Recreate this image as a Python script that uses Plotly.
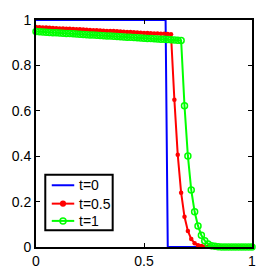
import plotly.graph_objects as go

# grid
x_grid = [i / 64 for i in range(65)]

blue_x = [0, 0.6, 0.61, 1]
blue_y = [1, 1, 0, 0]

red_y = [0.969, 0.968, 0.967, 0.967, 0.966, 0.965, 0.964, 0.963, 0.963, 0.962,
         0.961, 0.960, 0.959, 0.959, 0.958, 0.957, 0.956, 0.955, 0.955, 0.954,
         0.953, 0.952, 0.951, 0.951, 0.950, 0.949, 0.948, 0.947, 0.947, 0.946,
         0.945, 0.944, 0.943, 0.943, 0.942, 0.941, 0.940, 0.939, 0.939, 0.938,
         0.937,
         0.649, 0.406, 0.239, 0.133, 0.071, 0.035, 0.017, 0.008, 0.004, 0.002, 0.001,
         0, 0, 0, 0, 0, 0, 0, 0, 0, 0, 0, 0, 0]

green_y = [0.949, 0.948, 0.947, 0.946, 0.945, 0.944, 0.944, 0.943, 0.942, 0.941,
           0.940, 0.939, 0.938, 0.937, 0.936, 0.935, 0.934, 0.934, 0.933, 0.932,
           0.931, 0.930, 0.929, 0.928, 0.927, 0.926, 0.925, 0.924, 0.924, 0.923,
           0.922, 0.921, 0.920, 0.919, 0.918, 0.917, 0.916, 0.915, 0.915, 0.914,
           0.913, 0.912, 0.911, 0.910,
           0.622, 0.401, 0.251, 0.155, 0.093, 0.052, 0.028, 0.013, 0.006, 0.003, 0.001,
           0, 0, 0, 0, 0, 0, 0, 0, 0, 0]

x_ticks = [0, 0.5, 1]
x_labels = ["0", "0.5", "1"]
y_ticks = [0, 0.2, 0.4, 0.6, 0.8, 1]
y_labels = ["0", "0.2", "0.4", "0.6", "0.8", "1"]

legend_labels = ["t=0", "t=0.5", "t=1"]
legend_colors = ["#0000ff", "#ff0000", "#00ff00"]
legend_markers = [None, "dot", "ring"]

FONT = "Liberation Sans"

fig = go.Figure()
fig.add_trace(go.Scatter(x=blue_x, y=blue_y, mode="lines", name=legend_labels[0],
                         line=dict(color=legend_colors[0], width=2), cliponaxis=False,
                         showlegend=False))
fig.add_trace(go.Scatter(x=x_grid, y=red_y, mode="lines+markers", name=legend_labels[1],
                         line=dict(color=legend_colors[1], width=2),
                         marker=dict(color=legend_colors[1], size=4.5, symbol="circle"),
                         cliponaxis=False, showlegend=False))
fig.add_trace(go.Scatter(x=x_grid, y=green_y, mode="lines+markers", name=legend_labels[2],
                         line=dict(color=legend_colors[2], width=2),
                         marker=dict(color=legend_colors[2], size=6, symbol="circle-open",
                                     line=dict(color=legend_colors[2], width=1.5)),
                         cliponaxis=False, showlegend=False))

axis_common = dict(showline=True, linecolor="black", linewidth=2, mirror="ticks",
                   ticks="inside", ticklen=4, tickwidth=1, tickcolor="black",
                   showgrid=False, zeroline=False, automargin=False,
                   tickfont=dict(family=FONT, size=14, color="black"))

fig.update_xaxes(range=[0, 1], tickvals=x_ticks, ticktext=x_labels, **axis_common)
fig.update_yaxes(range=[0, 1], tickvals=y_ticks, ticktext=y_labels, **axis_common)

# Custom MATLAB-style legend box (paper coordinates of the plot area)
box = dict(x0=0.043, x1=0.355, y0=0.074, y1=0.318)
row_y = [0.272, 0.191, 0.115]
line_x0, line_x1, text_x = 0.073, 0.177, 0.188
shapes = [dict(type="rect", xref="paper", yref="paper", layer="above",
               x0=box["x0"], x1=box["x1"], y0=box["y0"], y1=box["y1"],
               line=dict(color="black", width=2), fillcolor="white")]
annotations = []
for lab, col, mk, yy in zip(legend_labels, legend_colors, legend_markers, row_y):
    shapes.append(dict(type="line", xref="paper", yref="paper", layer="above",
                       x0=line_x0, x1=line_x1, y0=yy, y1=yy,
                       line=dict(color=col, width=2)))
    if mk is not None:
        xm = (line_x0 + line_x1) / 2
        r = 2.3 if mk == "dot" else 3.0
        shapes.append(dict(type="circle", xref="paper", yref="paper", layer="above",
                           xsizemode="pixel", ysizemode="pixel",
                           xanchor=xm, yanchor=yy, x0=-r, x1=r, y0=-r, y1=r,
                           fillcolor=col if mk == "dot" else "rgba(0,0,0,0)",
                           line=dict(color=col, width=1.5)))
    annotations.append(dict(xref="paper", yref="paper", x=text_x, y=yy,
                            xanchor="left", yanchor="middle", text=lab, showarrow=False,
                            font=dict(family=FONT, size=14, color="black")))

# page body has an 8px margin, so the figure is sized to fit the 277px window
fig.update_layout(
    width=269, height=269,
    margin=dict(l=28, r=25, t=12, b=30),
    plot_bgcolor="white", paper_bgcolor="white",
    showlegend=False,
    shapes=shapes,
    annotations=annotations,
)

fig.write_html("out.html")
